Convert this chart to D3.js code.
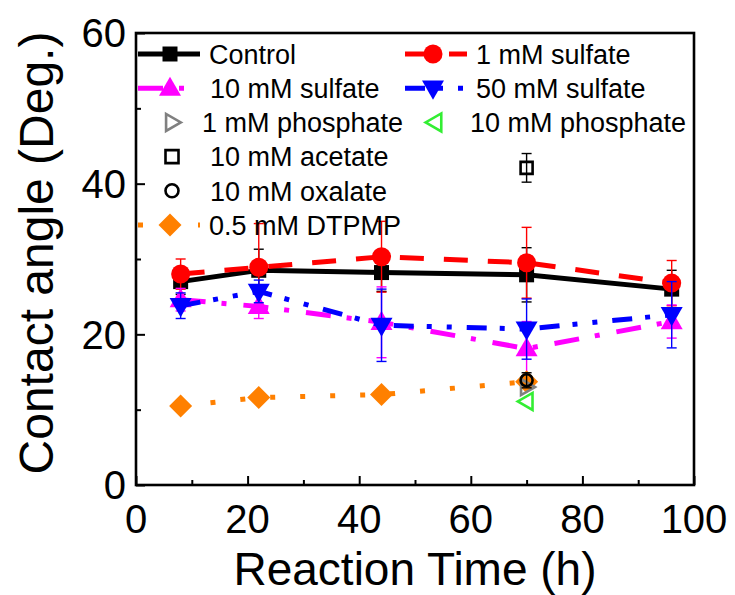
<!DOCTYPE html>
<html><head><meta charset="utf-8">
<script src="https://cdn.jsdelivr.net/npm/d3@7"></script>
<style>body{margin:0;background:#fff}svg{display:block}text{font-family:"Liberation Sans",Arial,sans-serif;fill:#000}</style>
</head><body><svg id="c" width="735" height="595"></svg>
<script>
// ---- data ----
const times = [8, 22, 44, 70, 96];
const control = [27.0, 28.5, 28.2, 27.9, 26.0];
const controlErr = [1.7, 2.8, 2.5, 3.6, 2.5];
const sulfate1 = [28.0, 28.9, 30.3, 29.5, 26.8];
const sulfate1Err = [2.0, 5.8, 4.7, 4.7, 3.0];
const sulfate10 = [24.6, 23.7, 21.6, 18.1, 21.7];
const sulfate10Err = [1.5, 1.6, 4.7, 3.6, 2.2];
const sulfate50 = [23.8, 25.7, 21.2, 20.7, 22.6];
const sulfate50Err = [1.7, 1.5, 4.8, 4.0, 4.4];
const dtpmpTimes = [8, 22, 44, 70];
const dtpmp = [10.5, 11.6, 12.0, 13.7];
const singleTime = [70];
const phosphate1 = [13.0];
const phosphate10 = [11.1];
const acetate = [42.1];
const acetateErr = [1.9];
const oxalate = [13.9];
const oxalateErr = [1.0];
const xTicks = [0, 20, 40, 60, 80, 100];
const yTicks = [0, 20, 40, 60];

// ---- layout ----
const svg = d3.select("#c");
const L = 136, R = 694, T = 33, B = 485;
const x = d3.scaleLinear().domain([0, 100]).range([L, R]);
const y = d3.scaleLinear().domain([0, 60]).range([B, T]);

// marker path generators (centered at 0,0)
const shapes = {
  square: s => `M${-s/2},${-s/2}h${s}v${s}h${-s}Z`,
  circle: s => d3.symbol(d3.symbolCircle, Math.PI*(s/2)*(s/2))(),
  triUp: s => { const h = s*0.87; return `M0,${-h*0.6}L${s/2},${h*0.4}L${-s/2},${h*0.4}Z`; },
  triDown: s => { const h = s*0.87; return `M0,${h*0.6}L${s/2},${-h*0.4}L${-s/2},${-h*0.4}Z`; },
  triRight: s => { const h = s*0.87; return `M${h*0.6},0L${-h*0.4},${s/2}L${-h*0.4},${-s/2}Z`; },
  triLeft: s => { const h = s*0.87; return `M${-h*0.6},0L${h*0.4},${s/2}L${h*0.4},${-s/2}Z`; },
  diamond: s => `M0,${-s/2}L${s/2},0L0,${s/2}L${-s/2},0Z`
};

const series = [
  {name:"Control", t:times, v:control, e:controlErr, color:"#000", dash:null, lw:5, shape:"square", size:15, fill:true},
  {name:"1 mM sulfate", t:times, v:sulfate1, e:sulfate1Err, color:"#ff0000", dash:"24,20", lw:5, shape:"circle", size:19, fill:true},
  {name:"10 mM sulfate", t:times, v:sulfate10, e:sulfate10Err, color:"#ff00ff", dash:"25,16,5,17", lw:5, shape:"triUp", size:22, fill:true},
  {name:"50 mM sulfate", t:times, v:sulfate50, e:sulfate50Err, color:"#0000ff", dash:"20,13,5,15,5,15", lw:5, shape:"triDown", size:22, fill:true},
  {name:"0.5 mM DTPMP", t:dtpmpTimes, v:dtpmp, e:null, color:"#ff8000", dash:"5,25", lw:5, shape:"diamond", size:23, fill:true},
  {name:"1 mM phosphate", t:singleTime, v:phosphate1, e:null, color:"#808080", dash:null, lw:0, shape:"triRight", size:16, fill:false},
  {name:"10 mM phosphate", t:singleTime, v:phosphate10, e:null, color:"#33ee33", dash:null, lw:0, shape:"triLeft", size:17, fill:false},
  {name:"10 mM acetate", t:singleTime, v:acetate, e:acetateErr, color:"#000", dash:null, lw:0, shape:"square", size:12, fill:false},
  {name:"10 mM oxalate", t:singleTime, v:oxalate, e:oxalateErr, color:"#000", dash:null, lw:0, shape:"circle", size:12, fill:false}
];

const plot = svg.append("g");
series.forEach(s => {
  const pts = s.t.map((t,i)=>({t, v:s.v[i], e:s.e ? s.e[i] : null}));
  if (s.lw > 0) {
    plot.append("path").datum(pts)
      .attr("d", d3.line().x(d=>x(d.t)).y(d=>y(d.v)))
      .attr("fill","none").attr("stroke", s.color).attr("stroke-width", s.lw)
      .attr("stroke-dasharray", s.dash);
  }
  plot.selectAll(null).data(pts).enter().append("path")
    .attr("transform", d=>`translate(${x(d.t)},${y(d.v)})`)
    .attr("d", shapes[s.shape](s.size))
    .attr("fill", s.fill ? s.color : "none")
    .attr("stroke", s.color).attr("stroke-width", s.fill ? 0 : 2.6);
  const ep = pts.filter(d=>d.e != null);
  const eg = plot.selectAll(null).data(ep).enter().append("g").attr("stroke", s.color).attr("stroke-width",1.4);
  eg.append("line").attr("x1", d=>x(d.t)).attr("x2", d=>x(d.t)).attr("y1", d=>y(d.v+d.e)).attr("y2", d=>y(d.v-d.e));
  eg.append("line").attr("x1", d=>x(d.t)-5).attr("x2", d=>x(d.t)+5).attr("y1", d=>y(d.v+d.e)).attr("y2", d=>y(d.v+d.e));
  eg.append("line").attr("x1", d=>x(d.t)-5).attr("x2", d=>x(d.t)+5).attr("y1", d=>y(d.v-d.e)).attr("y2", d=>y(d.v-d.e));
});

// ---- axes ----
const xAxis = d3.axisBottom(x).tickValues(d3.range(0, 101, 10)).tickSize(0).tickFormat("");
const yAxis = d3.axisLeft(y).tickValues(d3.range(0, 61, 10)).tickSize(0).tickFormat("");
const gx = svg.append("g").attr("transform",`translate(0,${B})`).call(xAxis);
gx.select(".domain").remove();
gx.selectAll(".tick line").attr("y2", d => xTicks.includes(d) ? -9 : -5).attr("stroke","#000").attr("stroke-width",2);
const gy = svg.append("g").attr("transform",`translate(${L},0)`).call(yAxis);
gy.select(".domain").remove();
gy.selectAll(".tick line").attr("x2", d => yTicks.includes(d) ? 9 : 5).attr("stroke","#000").attr("stroke-width",2);

svg.append("rect").attr("x",L).attr("y",T).attr("width",R-L).attr("height",B-T)
  .attr("fill","none").attr("stroke","#000").attr("stroke-width",2.6);

svg.append("g").selectAll("text").data(xTicks).enter().append("text")
  .attr("x", d=>x(d)).attr("y", 533).attr("text-anchor","middle").attr("font-size",40).text(d=>d);
svg.append("g").selectAll("text").data(yTicks).enter().append("text")
  .attr("x", L-10).attr("y", d=>y(d)).attr("dy","0.36em").attr("text-anchor","end").attr("font-size",40).text(d=>d);

svg.append("text").attr("x",(L+R)/2).attr("y",585).attr("text-anchor","middle").attr("font-size",46).text("Reaction Time (h)");
svg.append("text").attr("transform","translate(53,253) rotate(-90)").attr("text-anchor","middle").attr("font-size",48).text("Contact angle (Deg.)");

// ---- legend ----
const legendLayout = [
  {name:"Control", lx:138, mx:170, tx:209, row:0},
  {name:"1 mM sulfate", lx:405, mx:433, tx:476, row:0},
  {name:"10 mM sulfate", lx:138, mx:170, tx:210, row:1},
  {name:"50 mM sulfate", lx:405, mx:433, tx:476, row:1},
  {name:"1 mM phosphate", lx:null, mx:172, tx:202, row:2},
  {name:"10 mM phosphate", lx:null, mx:435, tx:470, row:2},
  {name:"10 mM acetate", lx:null, mx:172, tx:210, row:3},
  {name:"10 mM oxalate", lx:null, mx:172, tx:210, row:4},
  {name:"0.5 mM DTPMP", lx:138, mx:170, tx:209, row:5}
];
const rowY = r => 54 + r*34.2;
const lg = svg.append("g");
legendLayout.forEach(e => {
  const s = series.find(q=>q.name===e.name);
  const yy = rowY(e.row);
  if (e.lx != null) {
    lg.append("line").attr("x1",e.lx).attr("x2",e.lx+62).attr("y1",yy).attr("y2",yy)
      .attr("stroke",s.color).attr("stroke-width",s.lw).attr("stroke-dasharray",s.dash);
  }
  const sz = s.fill ? s.size : s.size+1;
  lg.append("path").attr("transform",`translate(${e.mx},${yy})`).attr("d",shapes[s.shape](sz))
    .attr("fill", s.fill ? s.color : "none").attr("stroke",s.color).attr("stroke-width", s.fill?0:2.6);
  lg.append("text").attr("x",e.tx).attr("y",yy).attr("dy","0.36em").attr("font-size",27).text(e.name);
});
</script></body></html>
